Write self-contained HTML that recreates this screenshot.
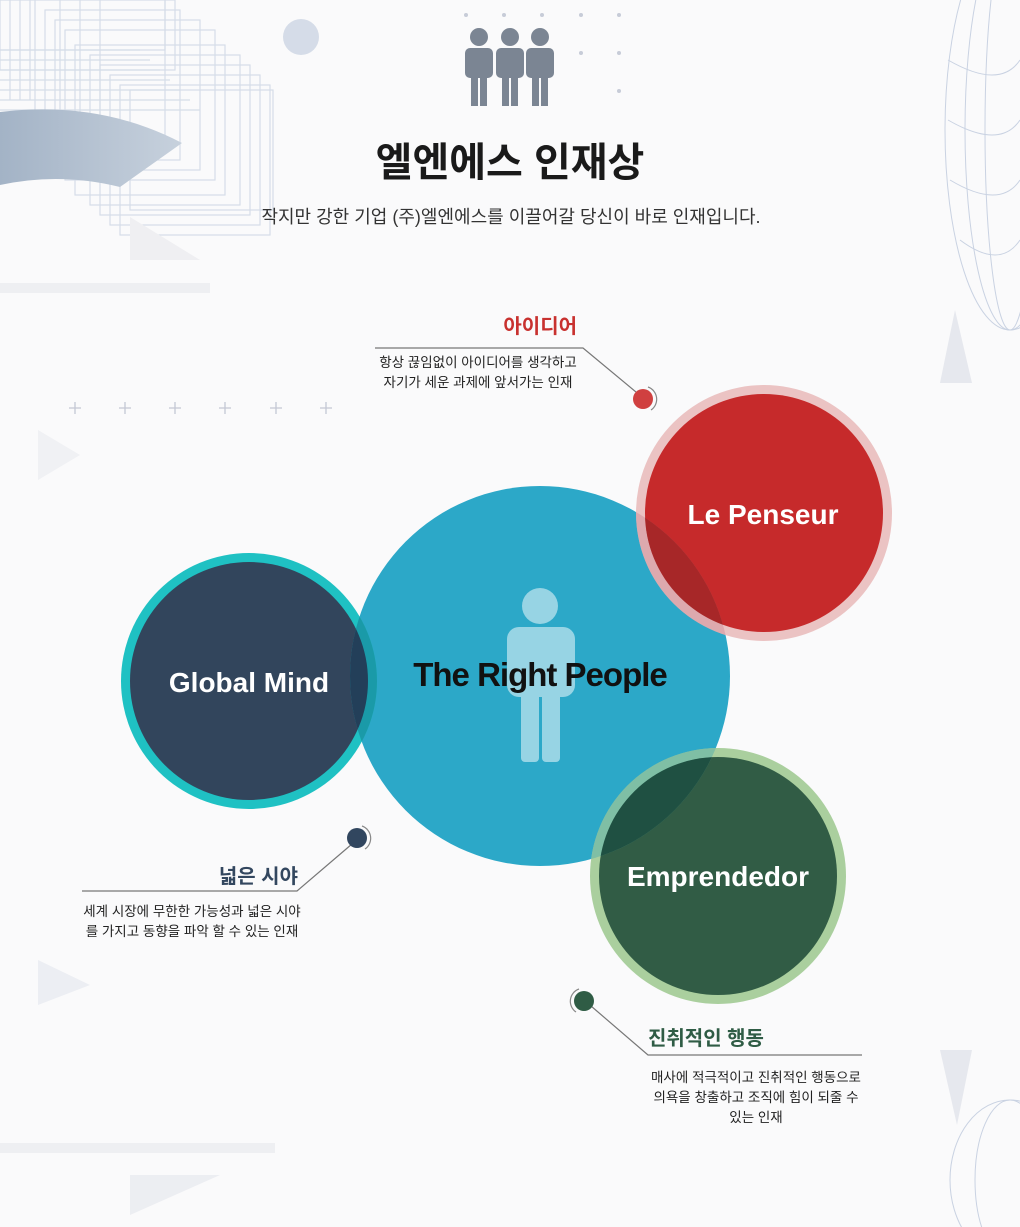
<!DOCTYPE html>
<html><head><meta charset="utf-8"><style>
html,body{margin:0;padding:0;background:#fafafb;}
svg{display:block}
text{font-family:"Liberation Sans","Noto Sans CJK KR",sans-serif;}
</style></head><body>
<svg width="1020" height="1227" viewBox="0 0 1020 1227" xmlns="http://www.w3.org/2000/svg">
<defs>
<clipPath id="cb"><circle cx="540" cy="676" r="190"/></clipPath>
<linearGradient id="sw" x1="0" x2="1"><stop offset="0" stop-color="#a3b3c6"/><stop offset="1" stop-color="#c7d1dd"/></linearGradient>
</defs>
<rect width="1020" height="1227" fill="#fafafb"/>
<g fill="none" stroke="#d5dde8" stroke-width="1.2">
<rect x="-10" y="-10" width="175" height="60"/><rect x="0" y="0" width="175" height="70"/>
<rect x="35" y="-5" width="130" height="140"/><rect x="45" y="10" width="135" height="150"/>
<rect x="55" y="20" width="145" height="150"/><rect x="65" y="30" width="150" height="150"/>
<rect x="75" y="45" width="150" height="150"/><rect x="90" y="55" width="150" height="150"/>
<rect x="100" y="65" width="150" height="150"/><rect x="110" y="75" width="150" height="150"/>
<rect x="120" y="85" width="150" height="150"/><rect x="130" y="90" width="143" height="120"/>
<path d="M0 50 H140 M0 60 H150 M0 70 H160 M0 80 H170 M0 90 H180 M0 100 H190 M0 110 H200 M10 0 V100 M20 0 V100 M30 0 V100 M60 0 V120 M80 0 V130 M100 0 V140"/>
</g>
<path d="M0 112 Q100 100 182 143 L120 187 Q60 172 0 185 Z" fill="url(#sw)"/>
<circle cx="301" cy="37" r="18" fill="#d5dce8"/>
<polygon points="130,217 130,260 200,260" fill="#efeff2"/>
<rect x="0" y="283" width="210" height="10" fill="#eeeff2"/>
<polygon points="955,310 940,383 972,383" fill="#e6e8ee"/>
<polygon points="940,1050 972,1050 957,1125" fill="#e6e8ee"/>
<rect x="0" y="1143" width="275" height="10" fill="#eeeff2"/>
<polygon points="130,1175 220,1175 130,1215" fill="#eceef2"/>
<polygon points="38,430 38,480 80,455" fill="#f0f1f4"/>
<polygon points="38,960 38,1005 90,985" fill="#eceef3"/>
<g fill="none" stroke="#c9d2e2" stroke-width="1">
<ellipse cx="1010" cy="130" rx="65" ry="200"/><ellipse cx="1010" cy="130" rx="45" ry="200"/><ellipse cx="1010" cy="130" rx="25" ry="200"/>
<path d="M948 60 Q1000 90 1020 60 M948 120 Q1000 150 1020 120 M950 180 Q1000 210 1020 180 M960 240 Q1000 270 1020 240"/>
<ellipse cx="1010" cy="1180" rx="60" ry="80"/><ellipse cx="1010" cy="1180" rx="35" ry="80"/>
</g>
<g fill="#c7ccd8"><circle cx="466" cy="15" r="2"/><circle cx="504" cy="15" r="2"/><circle cx="542" cy="15" r="2"/><circle cx="581" cy="15" r="2"/><circle cx="619" cy="15" r="2"/><circle cx="581" cy="53" r="2"/><circle cx="619" cy="53" r="2"/><circle cx="619" cy="91" r="2"/></g>
<g stroke="#c4c8d4" stroke-width="1.3">
<path d="M69 408h12M75 402v12M119 408h12M125 402v12M169 408h12M175 402v12M219 408h12M225 402v12M270 408h12M276 402v12M320 408h12M326 402v12"/>
</g>
<g fill="#7b8593">
<g id="p"><circle cx="479" cy="37" r="9"/><rect x="465" y="48" width="28" height="30" rx="5"/><rect x="471" y="70" width="7" height="36"/><rect x="480" y="70" width="7" height="36"/></g>
<use href="#p" x="31"/><use href="#p" x="61"/>
</g>
<text x="510" y="176" text-anchor="middle" font-size="40" font-weight="bold" fill="#1a1a1a">엘엔에스 인재상</text>
<text x="511" y="223" text-anchor="middle" font-size="18" fill="#333">작지만 강한 기업 (주)엘엔에스를 이끌어갈 당신이 바로 인재입니다.</text>
<circle cx="540" cy="676" r="190" fill="#2ca8c8"/>
<g fill="#97d4e4"><circle cx="540" cy="606" r="18"/><rect x="507" y="627" width="68" height="70" rx="12"/><rect x="521" y="680" width="18" height="82" rx="4"/><rect x="542" y="680" width="18" height="82" rx="4"/></g>
<circle cx="764" cy="513" r="128" fill="#ebc3c3"/>
<circle cx="764" cy="513" r="119" fill="#c62a2b"/>
<g clip-path="url(#cb)"><circle cx="764" cy="513" r="128" fill="#cf8f9a" opacity="0.5"/><circle cx="764" cy="513" r="119" fill="#a72728"/></g>
<circle cx="249" cy="681" r="128" fill="#1fc1c3"/>
<circle cx="249" cy="681" r="119" fill="#32455c"/>
<g clip-path="url(#cb)"><circle cx="249" cy="681" r="128" fill="#1a9aa8"/><circle cx="249" cy="681" r="119" fill="#233f59"/></g>
<circle cx="718" cy="876" r="128" fill="#aacf9e"/>
<circle cx="718" cy="876" r="119" fill="#315c45"/>
<g clip-path="url(#cb)"><circle cx="718" cy="876" r="128" fill="#6cb8a8" opacity="0.7"/><circle cx="718" cy="876" r="119" fill="#1f5042"/></g>
<text x="763" y="524" text-anchor="middle" font-size="28" font-weight="bold" fill="#fff">Le Penseur</text>
<text x="249" y="692" text-anchor="middle" font-size="28" font-weight="bold" fill="#fff">Global Mind</text>
<text x="718" y="886" text-anchor="middle" font-size="28" font-weight="bold" fill="#fff">Emprendedor</text>
<text x="540" y="686" text-anchor="middle" font-size="33" font-weight="bold" fill="#111" letter-spacing="-1">The Right People</text>
<g fill="none" stroke="#777" stroke-width="1.2">
<path d="M375 348H583L636 392"/>
<path d="M82 891H297L352 844"/>
<path d="M591 1006L648 1055H862"/>
</g>
<g fill="none" stroke="#888" stroke-width="1.2">
<path d="M648 387A13 13 0 0 1 651 410"/>
<path d="M362 826A13 13 0 0 1 365 849"/>
<path d="M579 989A13 13 0 0 0 576 1012"/>
</g>
<circle cx="643" cy="399" r="10" fill="#d04040"/>
<circle cx="357" cy="838" r="10" fill="#31465f"/>
<circle cx="584" cy="1001" r="10" fill="#2f5c45"/>
<text x="577" y="333" text-anchor="end" font-size="20" font-weight="bold" fill="#c8312f">아이디어</text>
<text x="478" y="367" text-anchor="middle" font-size="13.5" fill="#222">항상 끊임없이 아이디어를 생각하고</text>
<text x="478" y="387" text-anchor="middle" font-size="13.5" fill="#222">자기가 세운 과제에 앞서가는 인재</text>
<text x="298" y="883" text-anchor="end" font-size="20" font-weight="bold" fill="#33475f">넓은 시야</text>
<text x="192" y="916" text-anchor="middle" font-size="13.5" fill="#222">세계 시장에 무한한 가능성과 넓은 시야</text>
<text x="192" y="936" text-anchor="middle" font-size="13.5" fill="#222">를 가지고 동향을 파악 할 수 있는 인재</text>
<text x="648" y="1045" font-size="20" font-weight="bold" fill="#2f5c45">진취적인 행동</text>
<text x="756" y="1082" text-anchor="middle" font-size="13.5" fill="#222">매사에 적극적이고 진취적인 행동으로</text>
<text x="756" y="1102" text-anchor="middle" font-size="13.5" fill="#222">의욕을 창출하고 조직에 힘이 되줄 수</text>
<text x="756" y="1122" text-anchor="middle" font-size="13.5" fill="#222">있는 인재</text>
</svg>
</body></html>
